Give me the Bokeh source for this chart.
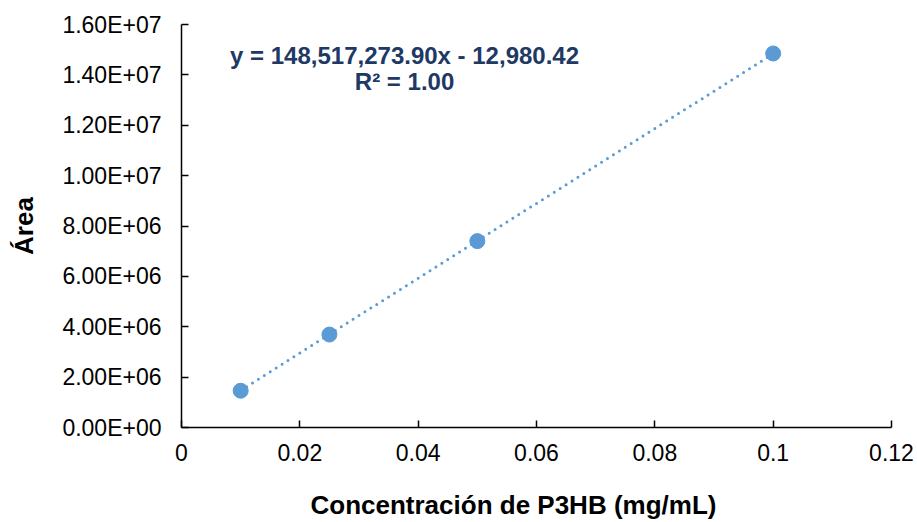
from bokeh.plotting import figure
from bokeh.models import (ColumnDataSource, Range1d, FixedTicker, Label, Title,
                          LinearAxis)
from bokeh.embed import file_html
from bokeh.resources import INLINE

# Data
conc = [0.01, 0.025, 0.05, 0.1]
area = [1.46e6, 3.69e6, 7.40e6, 1.485e7]
slope = 148517273.90
intercept = -12980.42
eq_text = "y = 148,517,273.90x - 12,980.42"
r2_text = "R² = 1.00"
x_title = "Concentración de P3HB (mg/mL)"
y_title = "Área"

x_ticks = [0, 0.02, 0.04, 0.06, 0.08, 0.1, 0.12]
x_tick_labels = ["0", "0.02", "0.04", "0.06", "0.08", "0.1", "0.12"]
y_ticks = [0, 2e6, 4e6, 6e6, 8e6, 1e7, 1.2e7, 1.4e7, 1.6e7]
y_tick_labels = ["0.00E+00", "2.00E+06", "4.00E+06", "6.00E+06", "8.00E+06",
                 "1.00E+07", "1.20E+07", "1.40E+07", "1.60E+07"]

FONT = "Liberation Sans"
BLUE = "#5B9BD5"
NAVY = "#203864"

p = figure(width=917, height=522, output_backend="svg", toolbar_location=None,
           x_range=Range1d(0, 0.12), y_range=Range1d(0, 1.6e7),
           min_border_left=181, min_border_right=26, min_border_top=24,
           min_border_bottom=95)
p.outline_line_color = None
p.xgrid.grid_line_color = None
p.ygrid.grid_line_color = None
p.background_fill_color = "white"

# trendline over the data range
tx = [min(conc), max(conc)]
ty = [slope * v + intercept for v in tx]
p.line(tx, ty, line_color=BLUE, line_width=3, line_dash="0 7", line_cap="round")

src = ColumnDataSource(dict(x=conc, y=area))
p.scatter("x", "y", source=src, size=15, fill_color=BLUE, line_color=BLUE)

for ax in (p.xaxis[0], p.yaxis[0]):
    ax.axis_line_color = "black"
    ax.axis_line_width = 1.5
    ax.major_tick_line_color = "black"
    ax.major_tick_line_width = 1.5
    ax.major_tick_in = 7
    ax.major_tick_out = 0
    ax.minor_tick_line_color = None
    ax.major_label_text_font = FONT
    ax.major_label_text_font_size = "23px"
    ax.major_label_text_color = "black"
    ax.axis_label_text_font = FONT
    ax.axis_label_text_font_size = "26px"
    ax.axis_label_text_font_style = "bold"
    ax.axis_label_text_color = "black"

p.xaxis.ticker = FixedTicker(ticks=x_ticks)
p.xaxis.major_label_overrides = {t: l for t, l in zip(x_ticks, x_tick_labels)}
p.xaxis.major_label_standoff = 16

p.yaxis.ticker = FixedTicker(ticks=y_ticks)
p.yaxis.major_label_overrides = {t: l for t, l in zip(y_ticks, y_tick_labels)}
p.yaxis.major_label_standoff = 20
p.yaxis.axis_label = y_title
p.yaxis.axis_label_standoff = 20

# invisible spacer axis, so that the x title sits near the bottom edge
spacer = LinearAxis(ticker=FixedTicker(ticks=[0]), axis_line_color=None,
                    major_tick_line_color=None, minor_tick_line_color=None,
                    major_tick_in=0, major_tick_out=24, major_label_standoff=0,
                    major_label_overrides={0: ""})
p.add_layout(spacer, "below")

# x-axis title, set slightly left of the frame centre as in the original
p.add_layout(Title(text=x_title, align="left", offset=129, standoff=0,
                   vertical_align="bottom",
                   text_font=FONT, text_font_size="26px", text_font_style="bold",
                   text_color="black"), "below")

p.add_layout(Label(x=0.0377, y=1.478e7, text=eq_text, text_align="center",
                   text_baseline="middle", text_font=FONT, text_font_size="24px",
                   text_font_style="bold", text_color=NAVY))
p.add_layout(Label(x=0.0377, y=1.372e7, text=r2_text, text_align="center",
                   text_baseline="middle", text_font=FONT, text_font_size="24px",
                   text_font_style="bold", text_color=NAVY))

open("out.html", "w").write(file_html(p, INLINE))
